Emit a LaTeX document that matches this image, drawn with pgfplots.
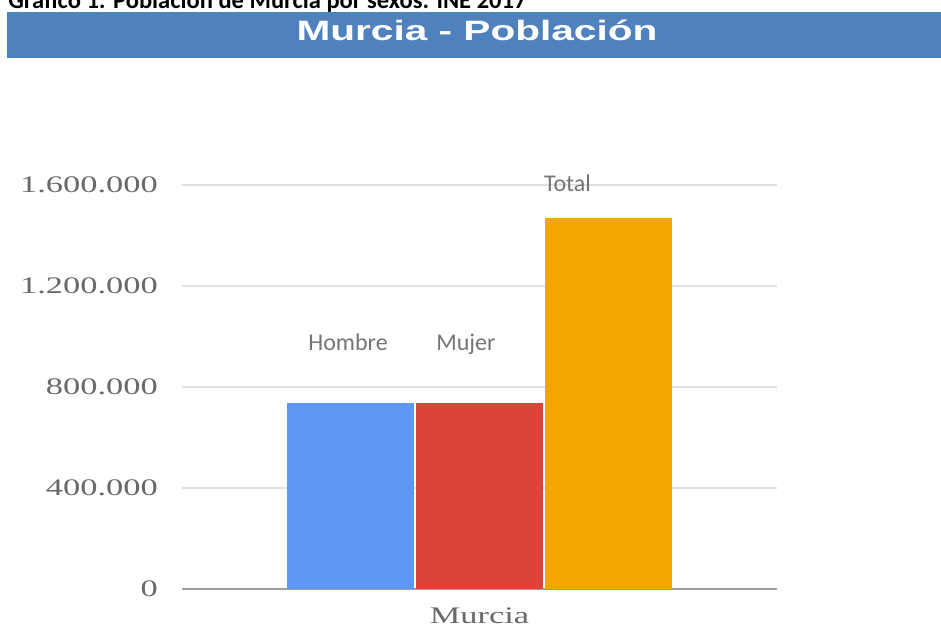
\documentclass[border=0pt]{standalone}
\usepackage{fontspec}
\usepackage{pgfplots}
\pgfplotsset{compat=1.18}
\setmainfont{Liberation Serif}
\newfontfamily\tickfont[FakeStretch=1.45]{Liberation Serif}
\newfontfamily\titlefont[FakeStretch=1.45]{Liberation Sans}
\newfontfamily\labfont{Carlito}

\definecolor{banner}{RGB}{79,129,189}
\definecolor{hombre}{RGB}{94,151,246}
\definecolor{mujer}{RGB}{219,68,55}
\definecolor{total}{RGB}{242,166,0}
\definecolor{gridgray}{RGB}{224,224,224}
\definecolor{axisgray}{RGB}{158,158,158}
\definecolor{ticktext}{RGB}{105,105,105}
\definecolor{labtext}{RGB}{117,117,117}

\begin{document}
\begin{tikzpicture}[x=0.75pt,y=0.75pt]
\useasboundingbox (0,0) rectangle (941,628);
\clip (0,0) rectangle (941,628);
% caption, cut at the top as in the source
\node[anchor=base west, inner sep=0pt, font=\labfont\bfseries\fontsize{18.4}{20}\selectfont]
  at (8,619) {Gráfico 1: Población de Murcia por sexos. INE 2017};
% banner
\fill[banner] (7,570) rectangle (941,616);
\node[anchor=base, inner sep=0pt, text=white, font=\titlefont\bfseries\fontsize{21}{24}\selectfont]
  at (477,587) {Murcia - Población};

\begin{axis}[
  at={(136.5pt,29.25pt)}, anchor=south west,
  scale only axis, width=446.25pt, height=303pt,
  xmin=-2.306, xmax=2.306,
  ymin=0, ymax=1600000,
  axis x line=bottom, axis y line=left,
  x axis line style={-, draw=axisgray, line width=1.5pt},
  y axis line style={draw=none},
  major tick length=0pt,
  ymajorgrids, grid style={gridgray, line width=1.2pt},
  xtick={0}, xticklabels={Murcia},
  ytick={0,400000,800000,1200000,1600000},
  scaled y ticks=false,
  yticklabel={\pgfmathprintnumber[fixed, assume math mode=true, 1000 sep={.}]{\tick}},
  yticklabel style={font=\tickfont\fontsize{17.8}{20}\selectfont, text=ticktext, anchor=east, inner sep=0pt, xshift=-18pt},
  xticklabel style={font=\tickfont\fontsize{17.8}{20}\selectfont, text=ticktext, anchor=base, inner sep=0pt, yshift=-25.5pt},
  ybar, bar shift=0pt, bar width=0.977,
  clip=false,
]
\addplot[fill=hombre, draw=none] coordinates {(-1,735100)};
\addplot[fill=mujer, draw=none] coordinates {(0,735173)};
\addplot[fill=total, draw=none] coordinates {(1,1470273)};
\node[anchor=base, inner sep=0pt, text=labtext, font=\labfont\fontsize{18}{20}\selectfont]
  at (axis cs:-1.019,946500) {Hombre};
\node[anchor=base, inner sep=0pt, text=labtext, font=\labfont\fontsize{18}{20}\selectfont]
  at (axis cs:-0.105,946500) {Mujer};
\node[anchor=base, inner sep=0pt, text=labtext, font=\labfont\fontsize{18}{20}\selectfont]
  at (axis cs:0.682,1576000) {Total};
\end{axis}
\end{tikzpicture}
\end{document}
